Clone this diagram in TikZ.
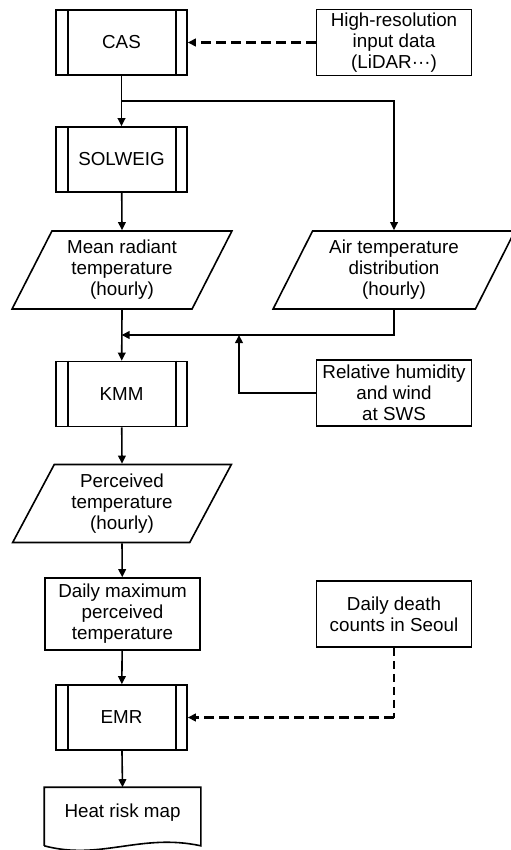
\documentclass[tikz,border=0pt]{standalone}
\usepackage{fontspec}
\setmainfont{Liberation Sans}
\usepackage{tikz}
\usetikzlibrary{positioning,arrows.meta,shapes.geometric,calc}

\begin{document}
\begin{tikzpicture}[
  x=0.5pt, y=-0.5pt,
  box/.style={
    rectangle, draw, line width=0.8pt,
    minimum width=77.5pt, minimum height=33pt,
    font=\fontsize{9.4}{10.5}\selectfont, align=center,
    inner sep=1pt, fill=white
  },
  process/.style={box, minimum width=65.5pt, minimum height=32.5pt},
  iodata/.style={box, trapezium, trapezium left angle=63, trapezium right angle=117,
    trapezium stretches=true, minimum height=39pt},
  docu/.style={box, draw=none, fill=none, minimum height=30pt, text depth=7pt},
  arr/.style={-{Triangle[length=4pt,width=3.8pt]}, line width=0.8pt},
  dasharr/.style={-{Triangle[length=4pt,width=3.8pt]}, line width=1.5pt,
    dash pattern=on 5pt off 2.5pt},
  thindash/.style={line width=0.7pt, dash pattern=on 4pt off 2.5pt}
]
\useasboundingbox (0,0) rectangle (510,850);

% Blocks
\node[process] (cas) at (121.5,42.5) {CAS};
\node[box] (hires) at (394,42.5) {High-resolution\\ input data\\ (LiDAR···)};
\node[process] (solweig) at (121.5,159.5) {SOLWEIG};
\node[iodata, minimum width=110pt] (mrt) at (122,270) {Mean radiant\\ temperature\\ (hourly)};
\node[iodata, minimum width=122pt] (air) at (394,270) {Air temperature\\ distribution\\ (hourly)};
\node[process] (kmm) at (121.5,394) {KMM};
\node[box] (rh) at (394,393) {Relative humidity\\ and wind\\ at SWS};
\node[iodata, minimum width=110pt] (perc) at (122,503.5) {Perceived\\ temperature\\ (hourly)};
\node[box, minimum height=36pt] (dmax) at (122.5,614) {Daily maximum\\ perceived\\ temperature};
\node[box] (death) at (394,614) {Daily death\\ counts in Seoul};
\node[process] (emr) at (121.5,717.5) {EMR};
\node[docu] (map) at (122.5,818) {Heat risk map};

% Side bars of the process blocks
\foreach \n in {cas,solweig,kmm,emr} {
  \draw[line width=0.8pt] ([xshift=6.5pt]\n.north west) -- ([xshift=6.5pt]\n.south west);
  \draw[line width=0.8pt] ([xshift=-6pt]\n.north east) -- ([xshift=-6pt]\n.south east);
}

% Document outline
\draw[line width=0.8pt] ([yshift=1.5pt]map.south west) -- (map.north west) -- (map.north east)
  -- ([yshift=1.5pt]map.south east)
  .. controls ($(map.south east)+(-30pt,8pt)$) and ($(map.south west)+(28pt,-6pt)$)
  .. ([yshift=1.5pt]map.south west);

% Junctions
\coordinate (split) at (121.5,101);
\coordinate (merge) at (121.5,335);
\coordinate (join) at (239,335);

% Edges
\draw[arr] (cas) -- (solweig);
\draw[arr] (split) -| (air.north);
\draw[arr] (solweig) -- (mrt.north);
\draw[arr] (mrt.south) -- (kmm);
\draw[arr] (air.south) |- (merge);
\draw[arr] (rh.west) -| (join);
\draw[arr] (kmm) -- (perc.north);
\draw[arr] (perc.south) -- (dmax);
\draw[arr] (dmax) -- (emr);
\draw[arr] (emr) -- (map.north);
\draw[dasharr] (hires.west) -- (cas.east);
\coordinate (bend) at (death.south |- emr.east);
\draw[thindash] (death.south) -- (bend);
\draw[dasharr] (bend) -- (emr.east);

\end{tikzpicture}
\end{document}
